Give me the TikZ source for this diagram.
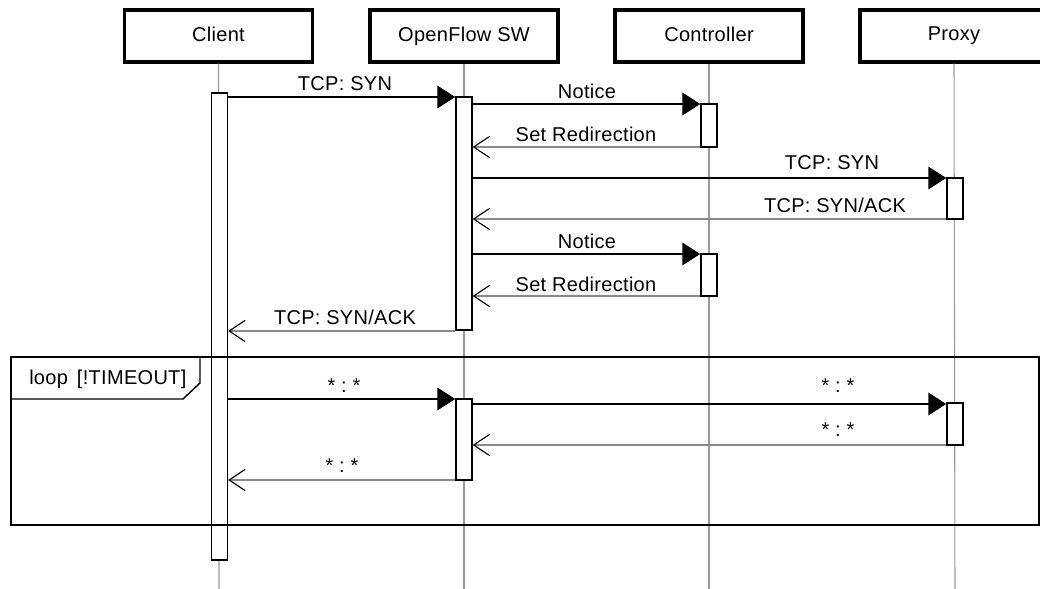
\documentclass[tikz,border=0pt]{standalone}
\usepackage{fontspec}
\setmainfont{Liberation Sans}[LetterSpace=1.5]
\usetikzlibrary{arrows.meta}
\definecolor{lifegray}{HTML}{9A9A9A}
\definecolor{retgray}{HTML}{8A8A8A}
\tikzset{
  header/.style={draw, line width=2.3pt, fill=white, minimum width=141pt, minimum height=39pt, inner sep=0pt, font=\fontsize{15}{17}\selectfont},
  bar/.style={draw, line width=1.1pt, fill=white, minimum width=12pt, inner sep=0pt},
  lifeline/.style={draw=lifegray, line width=0.8pt},
  msg/.style={draw=black, line width=1.1pt, -{Triangle[length=13.5pt,width=17pt]}},
  ret/.style={draw=retgray, line width=0.9pt, -{Straight Barb[length=12pt,width=16pt,color=black,line width=0.8pt]}},
  lbl/.style={font=\fontsize{15}{17}\selectfont, inner sep=0pt},
  frame/.style={draw=black, line width=1.1pt}
}
\newcommand{\hdtext}[1]{\raisebox{3.2pt}{#1}}
\begin{document}
\begin{tikzpicture}[x=0.75pt, y=-0.75pt]
\useasboundingbox (0,0) rectangle (1040,589);
\clip (0,0) rectangle (1040,589);
% headers
\node[header] (client) at (218.5,36) {\hdtext{Client}};
\node[header] (ofsw) at (464,36) {\hdtext{OpenFlow SW}};
\node[header] (ctrl) at (709,36) {\hdtext{Controller}};
\node[header] (proxy) at (954,36) {\hdtext{Proxy}};
% lifeline ends
\coordinate (clientE) at (219,589);
\coordinate (ofswE) at (464,589);
\coordinate (ctrlE) at (709,589);
\coordinate (proxyE) at (955,589);
\draw[lifeline] (client.south) -- (clientE);
\draw[lifeline] (ofsw.south) -- (ofswE);
\draw[lifeline] (ctrl.south) -- (ctrlE);
\draw[lifeline] (proxy.south) -- (proxyE);
% activation bars
\node[bar, minimum height=350.25pt] (cb) at (219.5,326.5) {};
\node[bar, minimum height=174.75pt] (of1) at (464,213.5) {};
\node[bar, minimum height=32.25pt] (c1) at (709,125.5) {};
\node[bar, minimum height=30.75pt] (p1) at (955,198.5) {};
\node[bar, minimum height=31.5pt] (c2) at (709,275) {};
\node[bar, minimum height=60.75pt] (of2) at (464,439.5) {};
\node[bar, minimum height=31.5pt] (p2) at (955,424) {};
% loop frame
\draw[frame] (11,357) rectangle (1039,525);
\draw[frame] (11,399) -- (183,399) -- (200,383) -- (200,357);
\node[lbl, anchor=west] (looplbl) at (29,379) {loop\hspace{0.45em}[!TIMEOUT]};
% messages
\draw[msg] (cb.east |- 0,97) -- (of1.west |- 0,97);
\node[lbl] (l1) at (345,84) {TCP: SYN};
\draw[msg] (of1.east |- 0,104) -- (c1.west |- 0,104);
\node[lbl] (l2) at (587,91) {Notice};
\draw[ret] (c1.west |- 0,147) -- (of1.east |- 0,147);
\node[lbl] (l3) at (586,134) {Set Redirection};
\draw[msg] (of1.east |- 0,178) -- (p1.west |- 0,178);
\node[lbl] (l4) at (832,163) {TCP: SYN};
\draw[ret] (p1.west |- 0,219) -- (of1.east |- 0,219);
\node[lbl] (l5) at (835,205) {TCP: SYN/ACK};
\draw[msg] (of1.east |- 0,254) -- (c2.west |- 0,254);
\node[lbl] (l6) at (587,241) {Notice};
\draw[ret] (c2.west |- 0,296) -- (of1.east |- 0,296);
\node[lbl] (l7) at (586,284) {Set Redirection};
\draw[ret] (of1.west |- 0,331) -- (cb.east |- 0,331);
\node[lbl] (l8) at (345,317) {TCP: SYN/ACK};
\draw[msg] (cb.east |- 0,399) -- (of2.west |- 0,399);
\node[lbl] (l9) at (344,386) {*\ :\ *};
\draw[msg] (of2.east |- 0,404) -- (p2.west |- 0,404);
\node[lbl] (l10) at (838,386) {*\ :\ *};
\draw[ret] (p2.west |- 0,445) -- (of2.east |- 0,445);
\node[lbl] (l11) at (838,430) {*\ :\ *};
\draw[ret] (of2.west |- 0,480) -- (cb.east |- 0,480);
\node[lbl] (l12) at (342,466) {*\ :\ *};
\end{tikzpicture}
\end{document}
